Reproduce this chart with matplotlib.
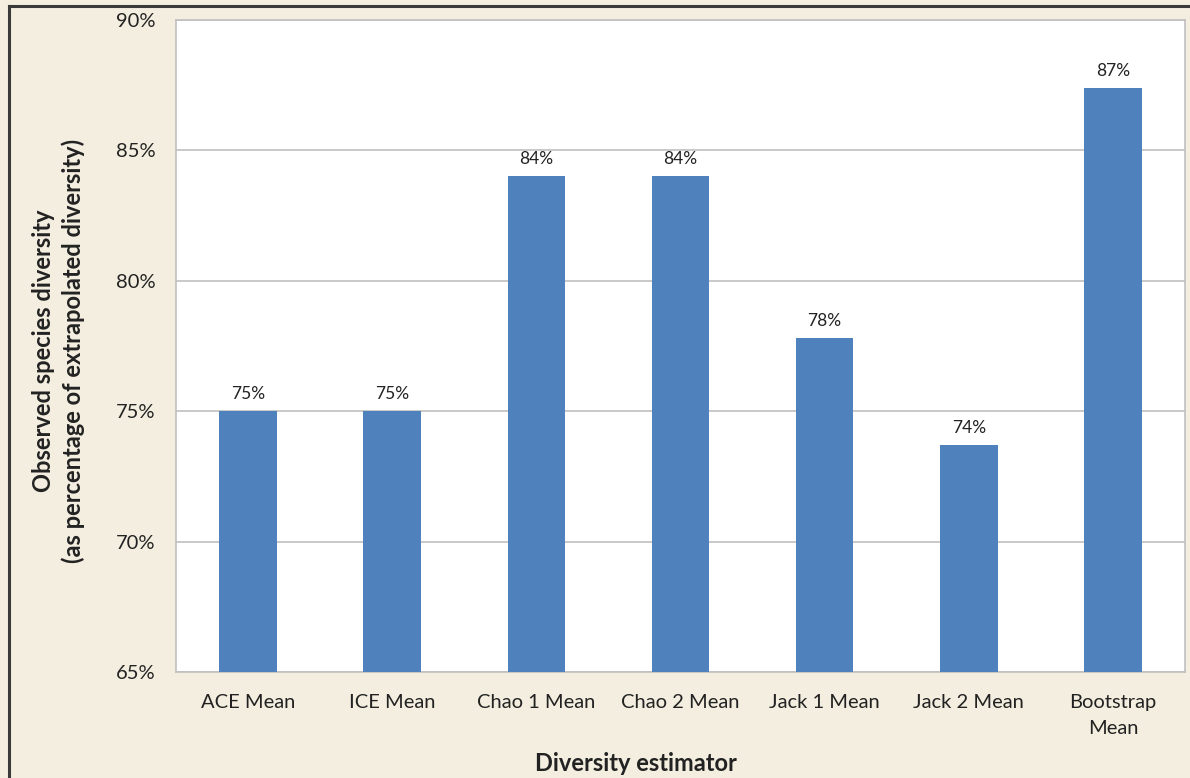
import matplotlib.pyplot as plt
from matplotlib.lines import Line2D

# observed species as a share of each estimator's extrapolated richness
estimators = ['ACE Mean', 'ICE Mean', 'Chao 1 Mean', 'Chao 2 Mean',
              'Jack 1 Mean', 'Jack 2 Mean', 'Bootstrap\nMean']
observed_pct = [75.0, 75.0, 84.0, 84.0, 77.8, 73.7, 87.4]
yticks = [65, 70, 75, 80, 85, 90]

plt.rcParams['font.family'] = ['Lato', 'DejaVu Sans']

bg = '#F3EEDF'
bar_color = '#4F81BD'
grid_color = '#C0C0C0'
text_color = '#222222'

fig = plt.figure(figsize=(11.9, 7.78), dpi=100, facecolor=bg)
ax = fig.add_axes([0.1479, 0.1362, 0.8479, 0.8381])
ax.set_facecolor('white')

x = list(range(len(estimators)))
ax.bar(x, observed_pct, width=0.4, color=bar_color, zorder=3)

for xi, v in zip(x, observed_pct):
    ax.text(xi, v + 0.35, f'{v:.0f}%', ha='center', va='bottom',
            fontsize=12.5, color=text_color, zorder=4)

ax.set_xlim(-0.5, len(estimators) - 0.5)
ax.set_ylim(65, 90)
ax.set_yticks(yticks)
ax.set_yticklabels([f'{t}%' for t in yticks], fontsize=14.5, color=text_color)
ax.set_xticks(x)
ax.set_xticklabels(estimators, fontsize=14.5, color=text_color,
                   linespacing=1.65, va='top')
ax.tick_params(axis='both', length=0)
ax.tick_params(axis='x', pad=16)
ax.tick_params(axis='y', pad=15)

ax.yaxis.grid(True, color=grid_color, linewidth=1.2, zorder=0)
for s in ax.spines.values():
    s.set_color(grid_color)
    s.set_linewidth(1.2)

# axis titles placed on the figure, centred like the chart area
fig.text(0.534, 0.019, 'Diversity estimator', fontsize=17, fontweight='bold',
         color=text_color, ha='center', va='center')
fig.text(0.049, 0.549,
         'Observed species diversity\n(as percentage of extrapolated diversity)',
         fontsize=17, fontweight='bold', color=text_color, rotation=90,
         ha='center', va='center', multialignment='center', linespacing=1.35)

# dark frame along the top and left edges
fig.add_artist(Line2D([0.0075, 1.0], [0.992, 0.992], color='#3A3A3A',
                      linewidth=2.2, transform=fig.transFigure))
fig.add_artist(Line2D([0.0075, 0.0075], [0.0, 0.992], color='#3A3A3A',
                      linewidth=2.2, transform=fig.transFigure))

fig.savefig('out.png', dpi=100, facecolor=bg)
